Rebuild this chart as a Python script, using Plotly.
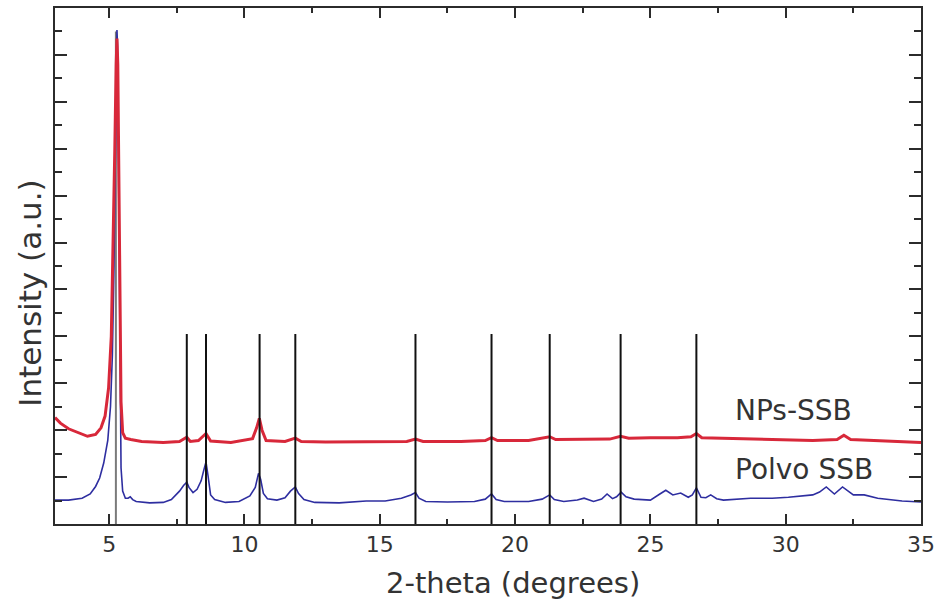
import plotly.graph_objects as go

# ---- data ----
polvo_x = [3.0, 3.5, 4.0, 4.3, 4.5, 4.65, 4.8, 4.95, 5.05, 5.12, 5.18, 5.23, 5.27, 5.29, 5.31, 5.34,
           5.37, 5.40, 5.44, 5.5, 5.6, 5.7, 5.78, 5.87, 6.0, 6.5, 7.0, 7.3, 7.6, 7.75, 7.87, 7.95,
           8.1, 8.25, 8.4, 8.5, 8.58, 8.65, 8.75, 8.9, 9.3, 9.8, 10.2, 10.4, 10.52, 10.6, 10.7,
           10.85, 11.2, 11.5, 11.7, 11.88, 12.0, 12.2, 12.6, 13.5, 14.5, 15.2, 15.8, 16.15, 16.32,
           16.45, 16.7, 17.5, 18.5, 18.9, 19.13, 19.3, 19.6, 20.5, 21.0, 21.28, 21.45, 21.8, 22.3,
           22.55, 22.9, 23.2, 23.4, 23.6, 23.75, 23.92, 24.1, 24.4, 25.0, 25.35, 25.57, 25.83,
           26.12, 26.4, 26.55, 26.7, 26.87, 27.05, 27.23, 27.45, 27.7, 28.7, 29.5, 30.1, 31.0,
           31.25, 31.5, 31.8, 32.1, 32.5, 32.9, 33.4, 34.3, 35.0]
polvo_y = [0.51, 0.51, 0.55, 0.64, 0.80, 0.98, 1.30, 1.78, 2.5, 3.6, 5.5, 8.0, 10.0, 10.53, 10.2, 8.0,
           5.0, 2.5, 1.2, 0.7, 0.55, 0.55, 0.58, 0.52, 0.48, 0.45, 0.46, 0.52, 0.70, 0.82, 0.89, 0.78,
           0.67, 0.74, 0.92, 1.15, 1.32, 1.05, 0.62, 0.52, 0.46, 0.48, 0.60, 0.78, 1.08, 0.95, 0.65,
           0.54, 0.51, 0.56, 0.70, 0.79, 0.65, 0.52, 0.46, 0.45, 0.49, 0.49, 0.55, 0.62, 0.67,
           0.55, 0.48, 0.47, 0.48, 0.53, 0.64, 0.52, 0.48, 0.48, 0.53, 0.62, 0.52, 0.48, 0.51,
           0.55, 0.48, 0.53, 0.64, 0.54, 0.58, 0.68, 0.58, 0.53, 0.51, 0.64, 0.72, 0.62,
           0.66, 0.57, 0.62, 0.77, 0.57, 0.56, 0.62, 0.54, 0.51, 0.55, 0.55, 0.57, 0.62,
           0.68, 0.79, 0.64, 0.79, 0.62, 0.62, 0.55, 0.49, 0.47]

nps_x = [3.0, 3.2, 3.5, 3.9, 4.2, 4.5, 4.7, 4.85, 4.98, 5.08, 5.15, 5.21, 5.26, 5.29, 5.32, 5.36,
         5.40, 5.44, 5.5, 5.6, 5.8, 6.2, 7.0, 7.6, 7.87, 8.0, 8.3, 8.58, 8.75, 9.5, 10.3, 10.45,
         10.55, 10.65, 10.8, 11.5, 11.88, 12.1, 13.0, 14.0, 15.0, 16.0, 16.32, 16.6, 18.0, 18.9,
         19.13, 19.35, 20.5, 21.28, 21.5, 22.5, 23.5, 23.9, 24.2, 25.0, 26.0, 26.5, 26.7, 26.9,
         28.0, 29.5, 31.0, 31.9, 32.15, 32.4, 33.5, 35.0]
nps_y = [2.27, 2.15, 2.03, 1.93, 1.87, 1.91, 2.05, 2.3, 2.9, 4.0, 5.8, 8.0, 9.8, 10.35, 9.8, 7.5,
         4.5, 2.6, 1.95, 1.83, 1.80, 1.76, 1.74, 1.76, 1.85, 1.76, 1.78, 1.93, 1.77, 1.74, 1.82, 2.05,
         2.25, 2.0, 1.78, 1.76, 1.83, 1.76, 1.75, 1.75, 1.75, 1.76, 1.81, 1.76, 1.76, 1.78,
         1.84, 1.78, 1.78, 1.86, 1.80, 1.80, 1.81, 1.87, 1.83, 1.84, 1.84, 1.86, 1.93, 1.84,
         1.82, 1.80, 1.78, 1.80, 1.89, 1.80, 1.77, 1.74]

ref_peaks = [7.87, 8.58, 10.56, 11.88, 16.32, 19.13, 21.28, 23.90, 26.70]
ref_height = 4.05
main_ref_peak = 5.25
main_ref_height = 10.5

x_ticks = [5, 10, 15, 20, 25, 30, 35]
labels = ["NPs-SSB", "Polvo SSB"]

FONT = "DejaVu Sans"
AX = "#2b2b2b"
TXT = "#333333"

fig = go.Figure()

# main reference line (grey)
fig.add_trace(go.Scatter(x=[main_ref_peak, main_ref_peak], y=[0, main_ref_height], mode="lines",
                         line=dict(color="#7a7a7a", width=2), hoverinfo="skip", showlegend=False))

fig.add_trace(go.Scatter(x=polvo_x, y=polvo_y, mode="lines",
                         line=dict(color="#2e2ea0", width=1.6), showlegend=False, name=labels[1]))
fig.add_trace(go.Scatter(x=nps_x, y=nps_y, mode="lines",
                         line=dict(color="#d8283a", width=3), showlegend=False, name=labels[0]))

# reference stick lines
vx, vy = [], []
for p in ref_peaks:
    vx += [p, p, None]
    vy += [0, ref_height, None]
fig.add_trace(go.Scatter(x=vx, y=vy, mode="lines", line=dict(color="#111111", width=2),
                         hoverinfo="skip", showlegend=False))

fig.add_annotation(x=28.05, y=2.42, text=labels[0], showarrow=False, xanchor="left", yanchor="middle",
                   font=dict(family=FONT, size=28, color=TXT))
fig.add_annotation(x=28.05, y=1.17, text=labels[1], showarrow=False, xanchor="left", yanchor="middle",
                   font=dict(family=FONT, size=28, color=TXT))

fig.add_annotation(xref="paper", yref="paper", x=0.529, y=-0.114, text="2-theta (degrees)",
                   showarrow=False, xanchor="center", yanchor="middle",
                   font=dict(family=FONT, size=29, color=TXT))
fig.add_annotation(xref="paper", yref="paper", x=-0.029, y=0.448, text="Intensity (a.u.)",
                   showarrow=False, xanchor="center", yanchor="middle", textangle=-90,
                   font=dict(family=FONT, size=31, color=TXT))

fig.update_xaxes(range=[3, 35], tickvals=x_ticks, ticks="inside", ticklen=10, tickwidth=2,
                 tickcolor=AX, showline=True, linecolor=AX, linewidth=2, mirror="ticks",
                 showgrid=False, zeroline=False,
                 tickfont=dict(family=FONT, size=22, color=TXT),
                 minor=dict(dtick=2.5, tick0=0, ticks="inside", ticklen=5, tickwidth=2, tickcolor=AX, showgrid=False))
fig.update_yaxes(range=[0, 11], dtick=1, tick0=0, ticks="inside", ticklen=12, tickwidth=2,
                 tickcolor=AX, showline=True, linecolor=AX, linewidth=2, mirror="ticks",
                 showgrid=False, zeroline=False, showticklabels=False,
                 minor=dict(dtick=0.5, tick0=0, ticks="inside", ticklen=7, tickwidth=2, tickcolor=AX, showgrid=False))

fig.update_layout(width=941, height=603, margin=dict(l=55, r=20, t=6, b=79),
                  paper_bgcolor="white", plot_bgcolor="white",
                  font=dict(family=FONT, color=TXT))

fig.write_html("out.html")
